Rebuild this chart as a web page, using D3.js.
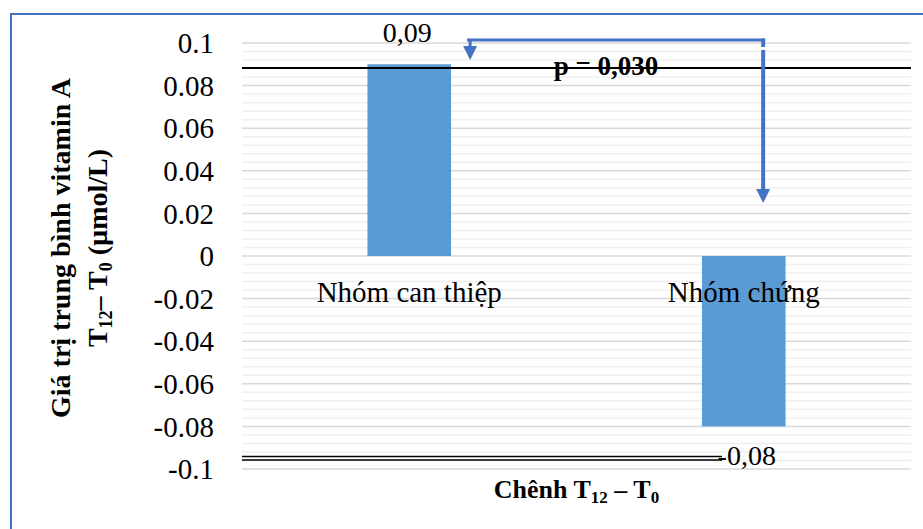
<!DOCTYPE html>
<html>
<head>
<meta charset="utf-8">
<script src="https://cdn.jsdelivr.net/npm/d3@7/dist/d3.min.js"></script>
<style>
  html, body { margin: 0; padding: 0; background: #fff; }
  svg { display: block; }
  text { font-family: "Liberation Serif", "Times New Roman", "DejaVu Serif", serif; fill: #000; }
</style>
</head>
<body>
<script>
// Mean change in serum vitamin A (T12 - T0) per study group
const categories = ["Nhóm can thiệp", "Nhóm chứng"];
const values = [0.09, -0.08];
const valueLabels = ["0,09", "-0,08"];
const yTicks = [0.1, 0.08, 0.06, 0.04, 0.02, 0, -0.02, -0.04, -0.06, -0.08, -0.1];
const yTickLabels = ["0.1", "0.08", "0.06", "0.04", "0.02", "0", "-0.02", "-0.04", "-0.06", "-0.08", "-0.1"];
const pLabel = "p = 0,030";
// reference rules drawn across the plot (data units)
const topRule = 0.0883;
const bottomRules = [-0.0941, -0.0958];
// comparison bracket: top level, left tip and right tip (data units)
const bracketTop = 0.1014;
const bracketLeftTip = 0.092;
const bracketRightTip = 0.0249;

const W = 923, H = 529;
const svg = d3.select("body").append("svg").attr("width", W).attr("height", H);
const serif = "'Liberation Serif', 'Times New Roman', 'DejaVu Serif', serif";

const plot = { left: 242, right: 911, top: 43, bottom: 469 };

const y = d3.scaleLinear().domain([-0.1, 0.1]).range([plot.bottom, plot.top]);
const x = d3.scaleBand().domain(categories).range([plot.left, plot.right]).padding(0);
const barW = x.bandwidth() * 0.25;
const cx = c => x(c) + x.bandwidth() / 2;

// chart frame
svg.append("rect")
  .attr("x", 11).attr("y", 14).attr("width", 1000).attr("height", 1000)
  .attr("fill", "none").attr("stroke", "#4472c4").attr("stroke-width", 2);

// minor gridlines
const minor = d3.range(-25, 26).map(i => +(i * 0.004).toFixed(4))
  .filter(v => Math.abs(Math.round(v * 1000) % 20) !== 0);
svg.append("g").selectAll("line").data(minor).join("line")
  .attr("x1", plot.left).attr("x2", plot.right)
  .attr("y1", d => y(d)).attr("y2", d => y(d))
  .attr("stroke", "#efefef").attr("stroke-width", 1.5);

// major gridlines
svg.append("g").selectAll("line").data(yTicks).join("line")
  .attr("x1", plot.left).attr("x2", plot.right)
  .attr("y1", d => y(d)).attr("y2", d => y(d))
  .attr("stroke", "#d9d9d9").attr("stroke-width", 1.5);

// y tick labels
svg.append("g").selectAll("text").data(yTicks).join("text")
  .attr("font-family", serif)
  .attr("x", 214).attr("y", d => y(d)).attr("dy", "0.35em")
  .attr("text-anchor", "end").attr("font-size", 29)
  .text((d, i) => yTickLabels[i]);

// bars
svg.append("g").selectAll("rect").data(values).join("rect")
  .attr("x", (d, i) => cx(categories[i]) - barW / 2)
  .attr("width", barW)
  .attr("y", d => y(Math.max(0, d)))
  .attr("height", d => Math.abs(y(d) - y(0)))
  .attr("fill", "#5b9bd5");

// category labels sitting below the zero line
svg.append("g").selectAll("text").data(categories).join("text")
  .attr("font-family", serif)
  .attr("x", d => cx(d)).attr("y", y(0) + 46)
  .attr("text-anchor", "middle").attr("font-size", 29)
  .text(d => d);

// top reference rule
svg.append("line")
  .attr("x1", plot.left).attr("x2", plot.right)
  .attr("y1", y(topRule)).attr("y2", y(topRule))
  .attr("stroke", "#000").attr("stroke-width", 2);

// bottom double rule
svg.append("g").selectAll("line").data(bottomRules).join("line")
  .attr("x1", plot.left).attr("x2", x(categories[1]) + x.bandwidth() * 0.435)
  .attr("y1", d => y(d)).attr("y2", d => y(d))
  .attr("stroke", "#000").attr("stroke-width", 1.5);

// value labels
svg.append("g").selectAll("text").data(values).join("text")
  .attr("font-family", serif)
  .attr("x", (d, i) => cx(categories[i]) + (d < 0 ? 3 : -2))
  .attr("y", d => d >= 0 ? y(d) - 22 : y(d) + 39)
  .attr("text-anchor", "middle").attr("font-size", 28)
  .text((d, i) => valueLabels[i]);

// comparison bracket with arrowheads
const blue = "#4472c4";
const lx = cx(categories[0]) + x.bandwidth() * 0.182;
const rx = cx(categories[1]) + x.bandwidth() * 0.058;
const by = y(bracketTop);
const head = 14;
const br = svg.append("g");
br.append("line").attr("x1", lx - 3).attr("x2", rx + 2).attr("y1", by).attr("y2", by)
  .attr("stroke", blue).attr("stroke-width", 3);
br.append("line").attr("x1", lx).attr("x2", lx).attr("y1", by).attr("y2", y(bracketLeftTip) - head + 1)
  .attr("stroke", blue).attr("stroke-width", 3);
// right leg is drawn in two pieces with a thin break just under the corner
br.append("line").attr("x1", rx).attr("x2", rx).attr("y1", by - 1.5).attr("y2", by + 7)
  .attr("stroke", blue).attr("stroke-width", 4);
br.append("line").attr("x1", rx).attr("x2", rx).attr("y1", by + 10).attr("y2", y(bracketRightTip) - head + 1)
  .attr("stroke", blue).attr("stroke-width", 4);
const tri = (tx, ty) => `M${tx - 7},${ty - head}L${tx + 7},${ty - head}L${tx},${ty}Z`;
br.append("path").attr("d", tri(lx, y(bracketLeftTip))).attr("fill", blue);
br.append("path").attr("d", tri(rx, y(bracketRightTip))).attr("fill", blue);

// p-value label
svg.append("text")
  .attr("font-family", serif)
  .attr("x", 606).attr("y", 75)
  .attr("text-anchor", "middle").attr("font-size", 27).attr("font-weight", "bold")
  .text(pLabel);

// x axis title with subscripts
const xt = svg.append("text")
  .attr("font-family", serif)
  .attr("x", (plot.left + plot.right) / 2).attr("y", 498)
  .attr("text-anchor", "middle").attr("font-size", 26).attr("font-weight", "bold");
xt.append("tspan").text("Chênh T");
xt.append("tspan").attr("font-size", 17).attr("dy", 5).text("12");
xt.append("tspan").attr("dy", -5).text(" – T");
xt.append("tspan").attr("font-size", 17).attr("dy", 5).text("0");

// y axis title, two lines, rotated
const yt = svg.append("g").attr("transform", "translate(0,248) rotate(-90)");
yt.append("text")
  .attr("font-family", serif)
  .attr("x", 0).attr("y", 70)
  .attr("text-anchor", "middle").attr("font-size", 28).attr("font-weight", "bold")
  .text("Giá trị trung bình vitamin A");
const yt2 = yt.append("text")
  .attr("font-family", serif)
  .attr("x", 0).attr("y", 107)
  .attr("text-anchor", "middle").attr("font-size", 28).attr("font-weight", "bold");
yt2.append("tspan").text("T");
yt2.append("tspan").attr("font-size", 18).attr("dy", 5).text("12");
yt2.append("tspan").attr("dy", -5).text("– T");
yt2.append("tspan").attr("font-size", 18).attr("dy", 5).text("0");
yt2.append("tspan").attr("dy", -5).text(" (µmol/L)");
</script>
</body>
</html>
